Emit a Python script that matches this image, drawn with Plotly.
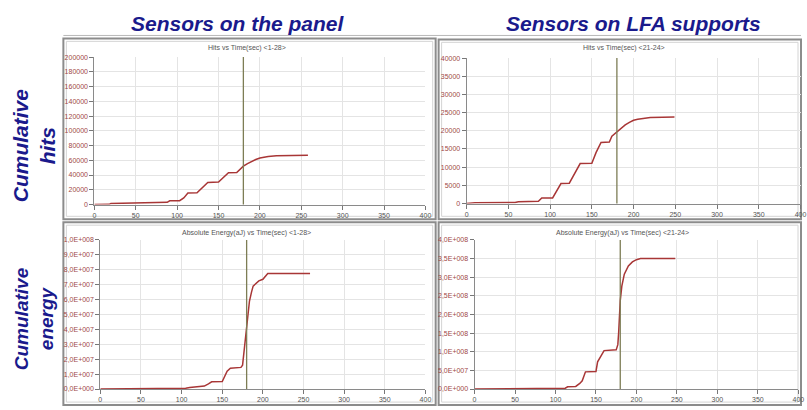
import plotly.graph_objects as go

W, H = 807, 410

# ---- data -------------------------------------------------------------
# Cumulative hits, sensors 1-28 (panel)
t_hits_panel = [0, 18, 20, 84, 88, 91, 103, 108, 113, 124, 130, 137, 150, 156, 162,
                172, 175, 180, 185, 190, 195, 200, 205, 210, 220, 235, 258]
hits_panel = [0, 300, 1500, 2000, 3000, 5000, 5200, 9000, 15500, 15800, 22000, 30000,
              30500, 37000, 43000, 43500, 47000, 52000, 55500, 58500, 61000, 63000,
              64500, 65200, 66000, 66500, 67000]

# Cumulative hits, sensors 21-24 (LFA supports)
t_hits_lfa = [0, 10, 58, 62, 86, 90, 103, 108, 113, 123, 130, 136, 150, 155, 161,
              171, 174, 180, 185, 190, 195, 200, 205, 210, 220, 235, 249]
hits_lfa = [0, 200, 300, 500, 600, 1500, 1550, 3500, 5500, 5600, 8500, 11000, 11100,
            14000, 16800, 16900, 18500, 19700, 20700, 21600, 22300, 22900, 23200,
            23400, 23650, 23750, 23800]

# Cumulative absolute energy (aJ), sensors 1-28
t_energy_panel = [0, 90, 105, 110, 120, 128, 133, 137, 150, 153, 156, 160, 173, 175,
                  176.5, 178, 180, 181.5, 183.5, 186, 188, 195, 200, 206, 258]
energy_panel = [0, 0.2e6, 0.5e6, 1.0e6, 1.5e6, 2.0e6, 3.5e6, 4.8e6, 5.0e6, 9.0e6,
                12e6, 14e6, 14.5e6, 16e6, 24e6, 32e6, 42e6, 52e6, 59e6, 65e6, 69e6,
                72.5e6, 73.6e6, 77.4e6, 77.4e6]

# Cumulative absolute energy (aJ), sensors 21-24
t_energy_lfa = [0, 110, 112, 115, 125, 130, 133, 137, 150, 152, 156, 160, 175, 177,
                178, 179, 180, 182, 185, 190, 195, 200, 205, 248]
energy_lfa = [0, 0, 2e6, 6e6, 7e6, 15e6, 22e6, 46e6, 47e6, 73e6, 88e6, 103e6, 105e6,
              119e6, 150e6, 189e6, 237e6, 277e6, 308e6, 330e6, 341e6, 347e6, 350e6,
              350e6]

cursor_time = 180

x_ticks = [0, 50, 100, 150, 200, 250, 300, 350, 400]

hits_panel_ticks = [0, 20000, 40000, 60000, 80000, 100000, 120000, 140000, 160000,
                    180000, 200000]
hits_lfa_ticks = [0, 5000, 10000, 15000, 20000, 25000, 30000, 35000, 40000]
energy_panel_ticks = [0, 1e7, 2e7, 3e7, 4e7, 5e7, 6e7, 7e7, 8e7, 9e7, 1e8]
energy_panel_labels = ["0,0E+000", "1,0E+007", "2,0E+007", "3,0E+007", "4,0E+007",
                       "5,0E+007", "6,0E+007", "7,0E+007", "8,0E+007", "9,0E+007",
                       "1,0E+008"]
energy_lfa_ticks = [0, 0.5e8, 1e8, 1.5e8, 2e8, 2.5e8, 3e8, 3.5e8, 4e8]
energy_lfa_labels = ["0,0E+000", "5,0E+007", "1,0E+008", "1,5E+008", "2,0E+008",
                     "2,5E+008", "3,0E+008", "3,5E+008", "4,0E+008"]

# ---- layout helpers ---------------------------------------------------
def px(x):
    return x / W


def py(y):
    return 1 - y / H


BLUE = "#1a1a8c"
CURVE = "#a83636"
CURSOR = "#7d7d55"
TICKRED = "#a04848"

fig = go.Figure()

panels = [
    # (xaxis id, x domain px, y domain px, t, values, y range, ticks, labels, title, title pos)
    ("", (93.3, 427.7), (54, 204), t_hits_panel, hits_panel, 200000,
     hits_panel_ticks, [str(v) for v in hits_panel_ticks],
     "Hits vs Time(sec) &lt;1-28&gt;", (247, 45)),
    ("2", (469.3, 806.5), (55, 203), t_hits_lfa, hits_lfa, 40000,
     hits_lfa_ticks, [str(v) for v in hits_lfa_ticks],
     "Hits vs Time(sec) &lt;21-24&gt;", (628, 45)),
    ("3", (99.3, 427.7), (240, 391.7), t_energy_panel, energy_panel, 1e8,
     energy_panel_ticks, energy_panel_labels,
     "Absolute Energy(aJ) vs Time(sec) &lt;1-28&gt;", (247, 233)),
    ("4", (477.3, 804.3), (240, 391.7), t_energy_lfa, energy_lfa, 4e8,
     energy_lfa_ticks, energy_lfa_labels,
     "Absolute Energy(aJ) vs Time(sec) &lt;21-24&gt;", (627, 233)),
]

layout_axes = {}
shapes = []
annotations = []

# window frames around each chart
frames = [(62, 35, 438, 219), (441, 36, 807, 219), (62, 222, 438, 408),
          (441, 222, 807, 408)]
for x0, y0, x1, y1 in frames:
    shapes.append(dict(type="rect", xref="paper", yref="paper",
                       x0=px(x0), x1=px(x1), y0=py(y1), y1=py(y0),
                       line=dict(color="#8c8c8c", width=2), layer="below"))
    shapes.append(dict(type="rect", xref="paper", yref="paper",
                       x0=px(x0 + 3), x1=px(x1 - 3), y0=py(y1 - 3), y1=py(y0 + 3),
                       line=dict(color="#d4d4d4", width=1), layer="below"))
shapes.append(dict(type="line", xref="paper", yref="paper", x0=px(62), x1=px(807),
                   y0=py(32), y1=py(32), line=dict(color="#b8b8b8", width=1)))

for axid, (xl, xr), (yt, yb), t, vals, ymax, yt_vals, yt_text, title, (tx, ty) in panels:
    xa = "xaxis" + axid
    ya = "yaxis" + axid
    xref = "x" + axid
    yref = "y" + axid
    fig.add_trace(go.Scatter(x=t, y=vals, mode="lines", xaxis=xref, yaxis=yref,
                             line=dict(color=CURVE, width=1.5), showlegend=False,
                             hoverinfo="skip"))
    layout_axes[xa] = dict(domain=[px(xl), px(xr)], anchor=yref, range=[0, 400],
                           tickvals=x_ticks, ticktext=[str(v) for v in x_ticks],
                           ticks="outside", ticklen=4, tickcolor="#777",
                           showline=True, linecolor="#8a8a8a", linewidth=1,
                           showgrid=True, gridcolor="#e4e4e4", gridwidth=1,
                           zeroline=False,
                           tickfont=dict(family="Liberation Sans", size=7, color="#555"))
    layout_axes[ya] = dict(domain=[py(yb), py(yt)], anchor=xref, range=[0, ymax],
                           tickvals=yt_vals, ticktext=yt_text,
                           ticks="outside", ticklen=4, tickcolor="#777",
                           showline=True, linecolor="#8a8a8a", linewidth=1,
                           showgrid=True, gridcolor="#e4e4e4", gridwidth=1,
                           zeroline=False,
                           tickfont=dict(family="Liberation Sans", size=7, color=TICKRED))
    shapes.append(dict(type="line", xref=xref, yref=yref + " domain",
                       x0=cursor_time, x1=cursor_time, y0=0, y1=1,
                       line=dict(color=CURSOR, width=1.3)))
    annotations.append(dict(text=title, xref="paper", yref="paper", x=px(tx), y=py(ty),
                            showarrow=False, xanchor="center", yanchor="middle",
                            font=dict(family="Liberation Sans", size=7, color="#555")))

# column and row headings
head_font = dict(family="Liberation Sans", size=21, color=BLUE)
annotations.append(dict(text="<b><i>Sensors on the panel</i></b>", xref="paper",
                        yref="paper", x=px(238), y=py(19.5), showarrow=False,
                        xanchor="center", yanchor="middle", font=head_font))
annotations.append(dict(text="<b><i>Sensors on LFA supports</i></b>", xref="paper",
                        yref="paper", x=px(638), y=py(19.5), showarrow=False,
                        xanchor="center", yanchor="middle", font=head_font))
annotations.append(dict(text="<b><i>Cumulative<br>hits</i></b>", xref="paper",
                        yref="paper", x=px(32), y=py(144), showarrow=False,
                        textangle=-90, xanchor="center", yanchor="middle",
                        font=dict(family="Liberation Sans", size=21, color=BLUE)))
annotations.append(dict(text="<b><i>Cumulative<br>energy</i></b>", xref="paper",
                        yref="paper", x=px(32), y=py(320), showarrow=False,
                        textangle=-90, xanchor="center", yanchor="middle",
                        font=dict(family="Liberation Sans", size=19, color=BLUE)))

fig.update_layout(width=W, height=H, margin=dict(l=0, r=0, t=0, b=0),
                  paper_bgcolor="white", plot_bgcolor="white",
                  shapes=shapes, annotations=annotations, showlegend=False,
                  **layout_axes)

fig.write_html("out.html")
